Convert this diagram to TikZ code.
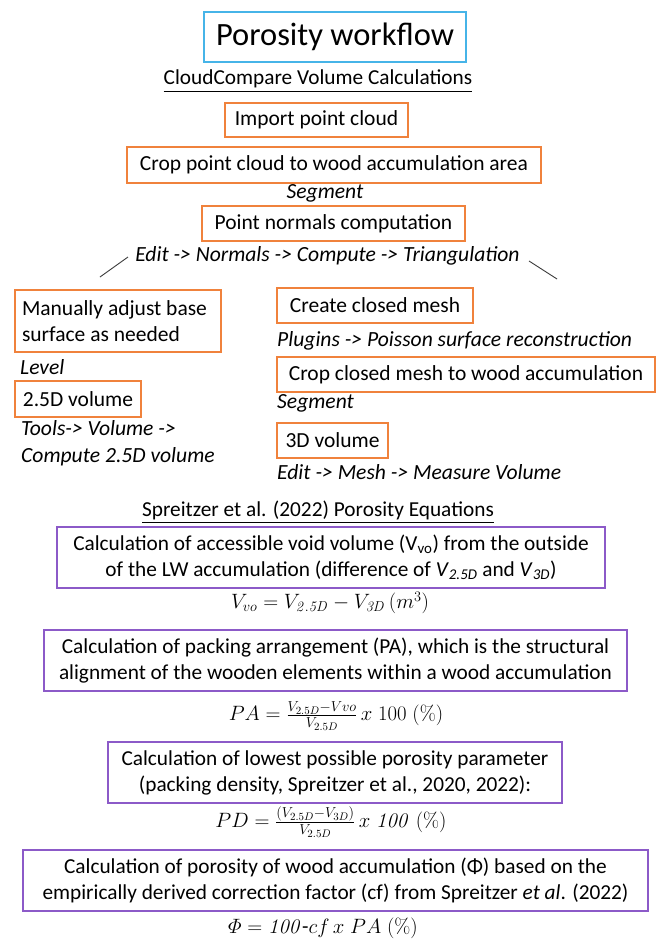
\documentclass[tikz,border=0pt]{standalone}
\usepackage{amsmath}
\usepackage[no-math]{fontspec}
\setmainfont{Carlito}
\definecolor{orangec}{RGB}{240,130,60}
\definecolor{bluec}{RGB}{70,180,232}
\definecolor{purplec}{RGB}{140,90,200}
\definecolor{linec}{RGB}{60,60,60}
\newcommand{\fsz}[2]{\fontsize{#1}{#2}\selectfont}
\tikzset{
  obox/.style={draw=orangec, line width=1.4pt, inner sep=0pt, font=\fsz{21.5}{25.5}},
  pbox/.style={draw=purplec, line width=1.4pt, inner sep=0pt, align=center, font=\fsz{21.3}{26}},
  menu/.style={inner sep=0pt, font=\fsz{21.6}{27}\itshape},
  head/.style={inner sep=0pt, font=\fsz{21.3}{25}},
  eqn/.style={inner sep=0pt, font=\fsz{21}{25}},
  branch/.style={draw=linec, line width=0.9pt}
}
\begin{document}
\begin{tikzpicture}[x=1pt,y=-1pt]
\useasboundingbox[fill=white] (0,0) rectangle (657,942);
% title
\node[draw=bluec, line width=1.4pt, inner sep=0pt, minimum width=262pt, minimum height=50pt, font=\fsz{32.5}{36}] (title) at (335,37) {Porosity workflow};
\node[head] (cchead) at (318,81) {\underline{CloudCompare Volume Calculations}};
% top chain
\node[obox, minimum width=183pt, minimum height=34pt] (import) at (316.5,120) {Import point cloud};
\node[obox, minimum width=414pt, minimum height=36pt] (crop) at (334,165) {Crop point cloud to wood accumulation area};
\node[menu] (seg1) at (325,193) {Segment};
\node[obox, minimum width=263pt, minimum height=35pt] (normals) at (333.5,223.5) {Point normals computation};
\node[menu] (editn) at (327.5,256) {Edit -> Normals -> Compute -> Triangulation};
% branch lines
\coordinate (la) at (128,257);
\coordinate (lb) at (100,277);
\coordinate (ra) at (529,261);
\coordinate (rb) at (557,279);
\draw[branch] (la) -- (lb);
\draw[branch] (ra) -- (rb);
% left column
\node[obox, minimum width=206pt, minimum height=62pt, text width=192pt, align=flush left] (manual) at (118,321) {Manually adjust base\\surface as needed};
\node[menu, anchor=west] (level) at (20,367) {Level};
\node[obox, minimum width=126pt, minimum height=36pt] (v25) at (78,399) {2.5D volume};
\node[menu, anchor=west, align=left] (tools) at (21,443.5) {Tools-> Volume ->\\Compute 2.5D volume};
% right column
\node[obox, minimum width=196pt, minimum height=35pt] (create) at (375,305.5) {Create closed mesh};
\node[menu, anchor=west] (plugins) at (277,341) {Plugins -> Poisson surface reconstruction};
\node[obox, minimum width=378pt, minimum height=35pt] (cropmesh) at (466,374.5) {Crop closed mesh to wood accumulation};
\node[menu, anchor=west] (seg2) at (277,403) {Segment};
\node[obox, minimum width=111pt, minimum height=35pt] (v3d) at (332.5,440.5) {3D volume};
\node[menu, anchor=west] (editm) at (277,472) {Edit -> Mesh -> Measure Volume};
% equations section
\node[head] (sphead) at (318,512) {\underline{Spreitzer et al. (2022) Porosity Equations}};
\node[pbox, minimum width=548pt, minimum height=61pt] (p1) at (331,557.5) {Calculation of accessible void volume (V\textsubscript{vo}) from the outside\\of the LW accumulation (difference of \textit{V}\textsubscript{\itshape 2.5D} and \textit{V}\textsubscript{\itshape 3D})};
\node[eqn] (eq1) at (330,603) {$V_{vo}=V_{\mathit{2.5D}}-V_{\mathit{3D}}\,(m^{3})$};
\node[pbox, minimum width=583pt, minimum height=61pt] (p2) at (335.5,660.5) {Calculation of packing arrangement (PA), which is the structural\\alignment of the wooden elements within a wood accumulation};
\node[eqn] (eq2) at (336,716) {$PA=\frac{V_{2.5D}-Vvo}{V_{2.5D}}\,x\;100\;\mathit{(\%)}$};
\node[pbox, minimum width=454pt, minimum height=61pt] (p3) at (335,772.5) {Calculation of lowest possible porosity parameter\\(packing density, Spreitzer et al., 2020, 2022):};
\node[eqn] (eq3) at (331,822) {$PD=\frac{(V_{2.5D}-V_{3D})}{V_{2.5D}}\,x\;\mathit{100}\;(\%)$};
\node[pbox, minimum width=625pt, minimum height=61pt] (p4) at (335.5,880.5) {Calculation of porosity of wood accumulation (Φ) based on the\\empirically derived correction factor (cf) from Spreitzer \textit{et al}. (2022)};
\node[eqn] (eq4) at (323,928) {$\varPhi=\mathit{100}\mathit{\text{-}}cf\,x\;PA\;(\%)$};
\end{tikzpicture}
\end{document}
